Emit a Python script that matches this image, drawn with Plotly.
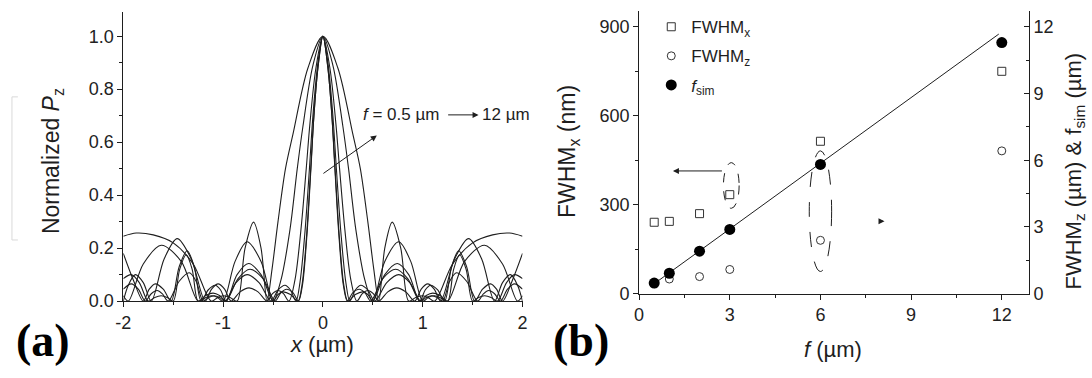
import plotly.graph_objects as go

# ---------------- panel (a): normalized Pz profiles, x >= 0 half (profiles are symmetric)
f_labels = ["0.5", "1", "2", "3", "6", "12"]

x_f05 = [0, 0.05, 0.09, 0.12, 0.16, 0.205, 0.245, 0.30, 0.365, 0.42, 0.48, 0.60, 0.73, 0.85, 0.97,
         1.025, 1.08, 1.15, 1.22, 1.29, 1.36, 1.44, 1.52, 1.60, 1.68, 1.74, 1.80, 1.90, 2.0]
p_f05 = [1, 0.88, 0.70, 0.50, 0.25, 0.06, 0, 0.032, 0.045, 0.032, 0, 0.085, 0.12, 0.085, 0,
         0.042, 0.06, 0.042, 0, 0.13, 0.19, 0.13, 0, 0.045, 0.065, 0.045, 0, 0.08, 0.18]

x_f1 = [0, 0.05, 0.09, 0.122, 0.165, 0.21, 0.25, 0.325, 0.40, 0.45, 0.50, 0.62, 0.745, 0.86, 0.97,
        1.035, 1.10, 1.175, 1.25, 1.31, 1.37, 1.435, 1.50, 1.56, 1.62, 1.685, 1.75, 1.84, 1.92, 2.0]
p_f1 = [1, 0.88, 0.70, 0.50, 0.24, 0.06, 0, 0.025, 0.035, 0.025, 0, 0.10, 0.142, 0.10, 0,
        0.021, 0.03, 0.021, 0, 0.12, 0.175, 0.12, 0, 0.014, 0.02, 0.014, 0, 0.07, 0.10, 0.085]

x_f2 = [0, 0.05, 0.10, 0.135, 0.18, 0.23, 0.27, 0.325, 0.38, 0.45, 0.52, 0.64, 0.76, 0.87, 0.98,
        1.035, 1.09, 1.145, 1.20, 1.27, 1.34, 1.44, 1.55, 1.61, 1.66, 1.72, 1.78, 1.85, 1.92, 2.0]
p_f2 = [1, 0.90, 0.70, 0.50, 0.26, 0.07, 0, 0.042, 0.06, 0.042, 0, 0.07, 0.10, 0.07, 0,
        0.014, 0.02, 0.014, 0, 0.075, 0.107, 0.075, 0, 0.028, 0.04, 0.028, 0, 0.045, 0.065, 0.045]

x_f3 = [0, 0.07, 0.13, 0.167, 0.22, 0.28, 0.34, 0.395, 0.45, 0.505, 0.56, 0.65, 0.74, 0.83, 0.92,
        0.985, 1.05, 1.115, 1.18, 1.32, 1.46, 1.59, 1.72, 1.80, 1.88, 1.95, 2.0]
p_f3 = [1, 0.88, 0.67, 0.50, 0.27, 0.08, 0, 0.028, 0.04, 0.028, 0, 0.035, 0.05, 0.035, 0,
        0.045, 0.065, 0.045, 0, 0.16, 0.236, 0.16, 0, 0.07, 0.10, 0.06, 0]

x_f6 = [0, 0.10, 0.20, 0.257, 0.33, 0.42, 0.50, 0.62, 0.76, 0.88, 1.00, 1.06, 1.12, 1.18, 1.25,
        1.42, 1.62, 1.80, 1.95, 2.0]
p_f6 = [1, 0.89, 0.66, 0.50, 0.27, 0.08, 0, 0.15, 0.224, 0.15, 0, 0.015, 0.02, 0.012, 0,
        0.15, 0.211, 0.14, 0, 0.02]

x_f12 = [0, 0.15, 0.30, 0.375, 0.45, 0.51, 0.56, 0.62, 0.695, 0.78, 0.86, 0.93, 1.00, 1.06, 1.12,
         1.30, 1.50, 1.70, 1.87, 2.0]
p_f12 = [1, 0.88, 0.63, 0.50, 0.30, 0.12, 0, 0.20, 0.298, 0.20, 0, 0.014, 0.02, 0.012, 0,
         0.14, 0.22, 0.25, 0.257, 0.245]

profiles = [(x_f05, p_f05), (x_f1, p_f1), (x_f2, p_f2), (x_f3, p_f3), (x_f6, p_f6), (x_f12, p_f12)]

x_ticks_a = [-2, -1, 0, 1, 2]
x_ticktext_a = ["-2", "-1", "0", "1", "2"]
y_ticks_a = [0, 0.2, 0.4, 0.6, 0.8, 1.0]

# ---------------- panel (b): spot size and simulated focal length vs design focal length
f_um = [0.5, 1, 2, 3, 6, 12]
fwhm_x_nm = [241, 244, 270, 334, 514, 750]
fwhm_z_um = [0.45, 0.66, 0.77, 1.09, 2.40, 6.42]
f_sim_um = [0.48, 0.92, 1.91, 2.89, 5.81, 11.29]
fit_f = [0.5, 11.9]
fit_fsim = [0.45, 11.67]

f_ticks = [0, 3, 6, 9, 12]
nm_ticks = [0, 300, 600, 900]
um_ticks = [0, 3, 6, 9, 12]

INK = "#1e1e1e"
FONT = "Liberation Sans, Arial, sans-serif"
SERIF = "Liberation Serif, Times New Roman, serif"
W, H = 1092, 378

fig = go.Figure()

for (xs, ps), lab in zip(profiles, f_labels):
    full_x = [-v for v in xs[::-1]] + xs[1:]
    full_p = ps[::-1] + ps[1:]
    fig.add_trace(go.Scatter(
        x=full_x, y=full_p, mode="lines", name=f"f = {lab} µm",
        line=dict(color=INK, width=1.1, shape="spline", smoothing=0.9),
        xaxis="x", yaxis="y", showlegend=False, hoverinfo="skip"))

fig.add_trace(go.Scatter(
    x=f_um, y=fwhm_x_nm, mode="markers", name="FWHM<sub>x</sub>",
    marker=dict(symbol="square-open", size=8, color="#333", line=dict(width=1)),
    xaxis="x2", yaxis="y2", legendgroup="a"))
fig.add_trace(go.Scatter(
    x=fit_f, y=fit_fsim, mode="lines", name="fit",
    line=dict(color=INK, width=1), xaxis="x2", yaxis="y3", showlegend=False))
fig.add_trace(go.Scatter(
    x=f_um, y=fwhm_z_um, mode="markers", name="FWHM<sub>z</sub>",
    marker=dict(symbol="circle-open", size=8, color="#333", line=dict(width=1)),
    xaxis="x2", yaxis="y3", legendgroup="b"))
fig.add_trace(go.Scatter(
    x=f_um, y=f_sim_um, mode="markers", name="<i>f</i><sub>sim</sub>",
    marker=dict(symbol="circle", size=11, color="#000"),
    xaxis="x2", yaxis="y3", legendgroup="c"))

axis_common = dict(showgrid=False, zeroline=False, showline=True, linecolor=INK, linewidth=1,
                   tickcolor=INK, tickwidth=1, tickfont=dict(family=FONT, size=18, color="#222"))

ax_a = [116.7 / W, 520.7 / W]
ay_a = [1 - 309.3 / H, 1 - 12.7 / H]
ax_b = [638.7 / W, 1033.3 / W]
ay_b = [1 - 301.7 / H, 1 - 11.7 / H]

fig.update_layout(
    width=W, height=H, margin=dict(l=0, r=0, t=0, b=0),
    paper_bgcolor="white", plot_bgcolor="white",
    font=dict(family=FONT, color=INK),
    xaxis=dict(domain=ax_a, anchor="y", range=[-2, 2], tickvals=x_ticks_a, ticktext=x_ticktext_a,
               ticks="outside", ticklen=5,
               minor=dict(dtick=0.5, ticks="outside", ticklen=3, tickcolor=INK), **axis_common),
    yaxis=dict(domain=ay_a, anchor="x", range=[0, 1.09], tickvals=y_ticks_a,
               tickformat=".1f", ticks="outside", ticklen=5,
               minor=dict(dtick=0.1, ticks="outside", ticklen=3, tickcolor=INK), **axis_common),
    xaxis2=dict(domain=ax_b, anchor="y2", range=[0, 12.9], tickvals=f_ticks,
                ticks="outside", ticklen=5,
                minor=dict(dtick=1.5, ticks="outside", ticklen=3, tickcolor=INK), **axis_common),
    xaxis3=dict(overlaying="x2", side="top", anchor="y2", range=[0, 12.9], tickvals=f_ticks,
                ticks="inside", ticklen=5, showticklabels=False,
                minor=dict(dtick=1.5, ticks="inside", ticklen=3, tickcolor=INK), **axis_common),
    yaxis2=dict(domain=ay_b, anchor="x2", range=[0, 952], tickvals=nm_ticks,
                ticks="outside", ticklen=5,
                minor=dict(dtick=150, ticks="outside", ticklen=3, tickcolor=INK), **axis_common),
    yaxis3=dict(overlaying="y2", side="right", anchor="x2", range=[0, 12.69], tickvals=um_ticks,
                ticks="inside", ticklen=5,
                minor=dict(dtick=1.5, ticks="inside", ticklen=3, tickcolor=INK), **axis_common),
    legend=dict(x=651 / W, y=0.975, xanchor="left", yanchor="top", bgcolor="rgba(0,0,0,0)",
                font=dict(family=FONT, size=17, color=INK), tracegroupgap=4,
                itemwidth=30),
)


def label(text, px, py, size, angle=0, family=FONT, color=INK):
    """Free text placed by its centre, given in figure pixels from the top-left corner."""
    return dict(text=text, x=px / W, y=1 - py / H, xref="paper", yref="paper",
                xanchor="center", yanchor="middle", textangle=angle, showarrow=False,
                font=dict(family=family, size=size, color=color))


ann = [
    # panel tags
    label("<b>(a)</b>", 35, 350, 46, family=SERIF, color="#000"),
    label("<b>(b)</b>", 580, 350, 46, family=SERIF, color="#000"),
    # axis titles
    label("<i>x</i> (µm)", 318, 354, 22),
    label("Normalized <i>P</i><sub>z</sub>", 45, 165, 23, angle=-90),
    label("<i>f</i> (µm)", 835, 359, 22),
    label("FWHM<sub>x</sub> (nm)", 568, 156, 23, angle=-90),
    label("FWHM<sub>z</sub> (µm) & f<sub>sim</sub> (µm)", 1080, 176, 22, angle=-90),
]
# trend label in panel (a)
ann.append(dict(text="<i>f</i> = 0.5 µm", x=0.385, y=0.703, xref="x", yref="y",
                xanchor="left", yanchor="middle", showarrow=False, font=dict(size=17)))
ann.append(dict(text="", x=1.56, y=0.703, ax=1.24, ay=0.703, xref="x", yref="y", axref="x", ayref="y",
                showarrow=True, arrowhead=2, arrowsize=1.2, arrowwidth=1, arrowcolor=INK))
ann.append(dict(text="12 µm", x=1.57, y=0.703, xref="x", yref="y",
                xanchor="left", yanchor="middle", showarrow=False, font=dict(size=17)))
ann.append(dict(text="", x=0.54, y=0.625, ax=-0.01, ay=0.478, xref="x", yref="y", axref="x", ayref="y",
                showarrow=True, arrowhead=2, arrowsize=1.2, arrowwidth=1, arrowcolor=INK))
# axis pointers in panel (b)
ann.append(dict(text="", x=1.12, y=414, ax=2.79, ay=414, xref="x2", yref="y2", axref="x2", ayref="y2",
                showarrow=True, arrowhead=2, arrowsize=1.2, arrowwidth=1, arrowcolor=INK))
ann.append(dict(text="", x=8.12, y=3.26, ax=7.98, ay=3.26, xref="x2", yref="y3", axref="x2", ayref="y3",
                showarrow=True, arrowhead=2, arrowsize=1.2, arrowwidth=1, arrowcolor=INK))
fig.update_layout(annotations=ann)

shapes = [
    dict(type="circle", xref="x2", yref="y2", x0=2.79, x1=3.31, y0=288, y1=442,
         line=dict(color=INK, width=1, dash="dash")),
    dict(type="circle", xref="x2", yref="y3", x0=5.63, x1=6.37, y0=1.0, y1=6.42,
         line=dict(color=INK, width=1, dash="longdash")),
    # faint bracket at the left margin
    dict(type="line", xref="paper", yref="paper", x0=4 / W, x1=10 / W, y0=1 - 99.5 / H, y1=1 - 99.5 / H,
         line=dict(color="#d9d9d9", width=1)),
    dict(type="line", xref="paper", yref="paper", x0=4 / W, x1=4 / W, y0=1 - 99.5 / H, y1=1 - 246.5 / H,
         line=dict(color="#d9d9d9", width=1)),
    dict(type="line", xref="paper", yref="paper", x0=4 / W, x1=10 / W, y0=1 - 246.5 / H, y1=1 - 246.5 / H,
         line=dict(color="#d9d9d9", width=1)),
]
fig.update_layout(shapes=shapes)

fig.write_html("out.html")
